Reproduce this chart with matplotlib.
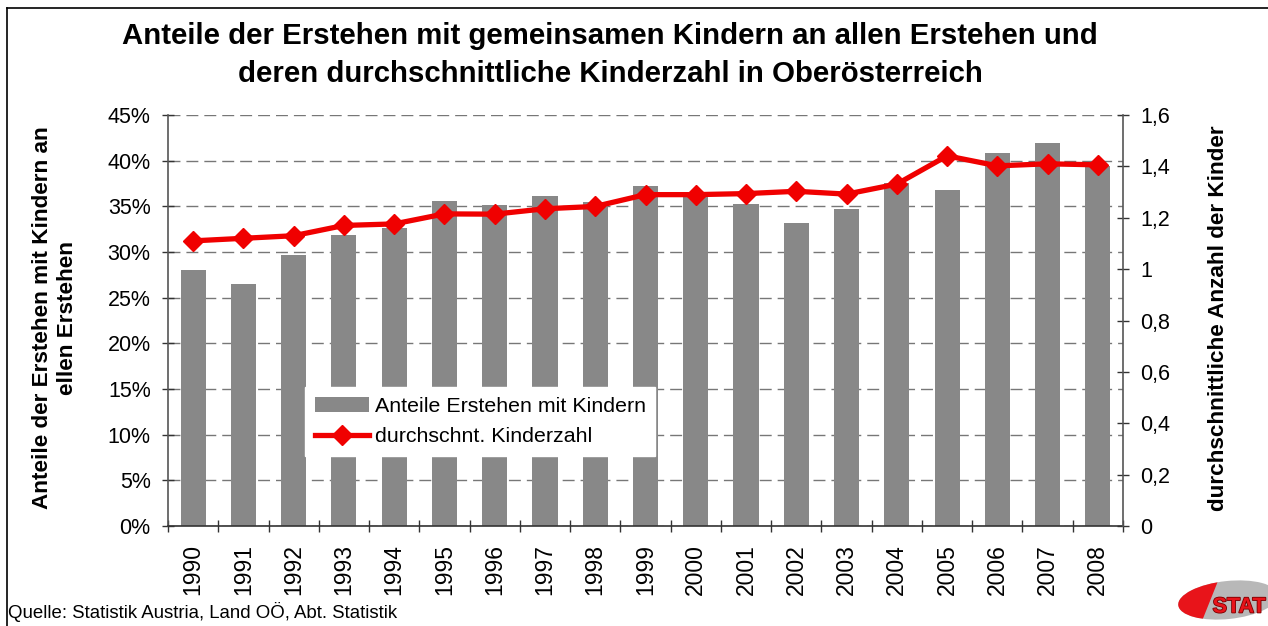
import matplotlib
matplotlib.use("Agg")
import matplotlib.pyplot as plt
from matplotlib.lines import Line2D
from matplotlib.patches import Ellipse, Polygon
from matplotlib.ticker import FuncFormatter, MultipleLocator
import matplotlib.patheffects as pe

plt.rcParams['font.family'] = ['Liberation Sans', 'DejaVu Sans']

years = [str(y) for y in range(1990, 2009)]
anteile = [28.0, 26.5, 29.7, 31.9, 32.6, 35.6, 35.1, 36.1, 35.5, 37.2,
           36.3, 35.3, 33.2, 34.7, 37.6, 36.8, 40.8, 41.9, 39.4]
kinderzahl = [1.11, 1.12, 1.13, 1.17, 1.176, 1.215, 1.214, 1.235, 1.244, 1.29,
              1.29, 1.294, 1.303, 1.292, 1.331, 1.441, 1.402, 1.41, 1.406]

title = "Anteile der Erstehen mit gemeinsamen Kindern an allen Erstehen und\nderen durchschnittliche Kinderzahl in Oberösterreich"
left_label = "Anteile der Erstehen mit Kindern an\nellen Erstehen"
right_label = "durchschnittliche Anzahl der Kinder"
bar_label = "Anteile Erstehen mit Kindern"
line_label = "durchschnt. Kinderzahl"
source = "Quelle: Statistik Austria, Land OÖ, Abt. Statistik"

W, H = 1268, 626
fig = plt.figure(figsize=(W / 100, H / 100), dpi=100)
fig.patch.set_facecolor('white')

ax = fig.add_axes([168 / W, 1 - 526 / H, (1123 - 168) / W, (526 - 115) / H])
x = list(range(len(years)))
bars = ax.bar(x, anteile, width=0.5, color='#888888', zorder=2, label=bar_label)
ax.set_xlim(-0.5, len(years) - 0.5)
ax.set_ylim(0, 45)
ax.yaxis.set_major_locator(MultipleLocator(5))
ax.yaxis.set_major_formatter(FuncFormatter(lambda v, p: f"{int(round(v))}%"))
ax.set_xticks([i - 0.5 for i in range(len(years) + 1)], minor=False)
ax.set_xticklabels([])
ax.set_xticks(x, minor=True)
ax.set_xticklabels(years, minor=True, rotation=90, fontsize=16.5)
ax.tick_params(axis='x', which='minor', length=0, pad=13)
ax.tick_params(axis='x', which='major', direction='inout', length=9, width=1, color='#333333')
ax.tick_params(axis='y', direction='inout', length=9, width=1, color='#333333', labelsize=15.5, pad=8)
ax.grid(axis='y', color='#777777', linewidth=1, linestyle=(0, (8.6, 4.3)), zorder=0)
ax.set_axisbelow(True)
for s in ['top', 'right']:
    ax.spines[s].set_visible(False)
ax.spines['left'].set_color('#555555')
ax.spines['bottom'].set_color('#333333')
ax.spines['left'].set_linewidth(1.2)
ax.spines['bottom'].set_linewidth(1.2)

ax2 = ax.twinx()
line, = ax2.plot(x, kinderzahl, color='#F00000', linewidth=3.8, marker='D',
                 markersize=10.5, zorder=5, label=line_label)
ax2.set_ylim(0, 1.6)
ax2.yaxis.set_major_locator(MultipleLocator(0.2))
ax2.yaxis.set_major_formatter(FuncFormatter(lambda v, p: "0" if abs(v) < 1e-9 else ("1" if abs(v - 1) < 1e-9 else f"{v:.1f}".replace('.', ','))))
ax2.tick_params(axis='y', direction='inout', length=9, width=1, color='#333333', labelsize=15.5, pad=8)
for s in ['top', 'left', 'bottom']:
    ax2.spines[s].set_visible(False)
ax2.spines['right'].set_color('#555555')
ax2.spines['right'].set_linewidth(1.2)
ax.set_zorder(1)
ax2.set_zorder(2)
ax2.patch.set_visible(False)

leg = ax2.legend([bars, line], [bar_label, line_label], loc='upper left',
                 bbox_to_anchor=((305 - 168) / 955, (526 - 387) / 411),
                 frameon=True, fancybox=False, framealpha=1, edgecolor='white',
                 facecolor='white', fontsize=15.4, handlelength=2.55,
                 handletextpad=0.25, borderpad=0.45, labelspacing=0.55, borderaxespad=0)

fig.text(610 / W, 1 - 55 / H, title, ha='center', va='center', fontsize=21.2,
         fontweight='bold', linespacing=1.5)
fig.text(55 / W, 1 - 318 / H, left_label, rotation=90, ha='center', va='center',
         fontsize=16.2, fontweight='bold', multialignment='center', linespacing=1.3)
fig.text(1218 / W, 1 - 318 / H, right_label, rotation=90, ha='center', va='center',
         fontsize=16.2, fontweight='bold')
fig.text(8 / W, 1 - 612 / H, source, ha='left', va='center', fontsize=13.4)

# border (top and left visible)
fig.add_artist(Line2D([7 / W, 1], [1 - 8 / H, 1 - 8 / H], color='black', linewidth=1.2))
fig.add_artist(Line2D([7 / W, 7 / W], [0, 1 - 8 / H], color='black', linewidth=1.2))

# logo (pixel coordinates, y downward)
lax = fig.add_axes([1168 / W, 0, 100 / W, 50 / H])
lax.set_xlim(0, 100)
lax.set_ylim(50, 0)
lax.axis('off')
el = Ellipse((60, 24), 100, 38, angle=-6, facecolor='#b8b8b8', edgecolor='none')
lax.add_patch(el)
red = Polygon([(0, 0), (52, 0), (32, 50), (0, 50)], closed=True, facecolor='#e8141a', edgecolor='none')
red.set_clip_path(el)
lax.add_patch(red)
lax.text(71, 31, "STAT", ha='center', va='center', fontsize=15.5, fontweight='bold',
         color='#e8141a', path_effects=[pe.withStroke(linewidth=1.2, foreground='#7a0000')])

fig.savefig('out.png', dpi=100, facecolor='white')
